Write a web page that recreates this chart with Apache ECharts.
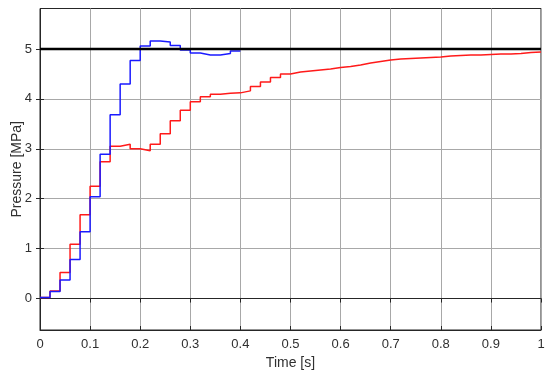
<!DOCTYPE html>
<html>
<head>
<meta charset="utf-8">
<script src="https://cdn.jsdelivr.net/npm/echarts@6/dist/echarts.min.js"></script>
<style>html,body{margin:0;padding:0;background:#fff}#c{width:550px;height:378px}</style>
</head>
<body>
<div id="c"></div>
<script>
// sample period of the stair signals
var dt = 0.02;
// blue response (0 .. 0.40 s), value held for each 0.02 s step
var blueValues = [0.02, 0.14, 0.37, 0.78, 1.34, 2.04, 2.89, 3.68, 4.30, 4.77,
                  5.06, 5.16, 5.14, 5.07, 4.98, 4.92, 4.88, 4.88, 4.91, 4.96];
// red response (0 .. 1.0 s)
var redValues = [0.02, 0.15, 0.52, 1.09, 1.68, 2.25, 2.74, 3.05, 3.09, 3.00,
                 2.96, 3.09, 3.30, 3.56, 3.77, 3.94, 4.04, 4.09, 4.11, 4.12,
                 4.16, 4.25, 4.34, 4.43, 4.50, 4.54, 4.56, 4.58, 4.60, 4.63,
                 4.65, 4.68, 4.72, 4.75, 4.78, 4.80, 4.81, 4.82, 4.83, 4.84,
                 4.86, 4.87, 4.88, 4.88, 4.89, 4.90, 4.90, 4.91, 4.93, 4.94];
// reference level
var refX = [0, 1];
var refY = [5, 5];
var yTicks = [0, 1, 2, 3, 4, 5];
var xLabel = 'Time [s]';
var yLabel = 'Pressure [MPa]';

function stairs(vals) {
  var out = [];
  for (var i = 0; i < vals.length; i++) out.push([+(i * dt).toFixed(4), vals[i]]);
  out.push([+(vals.length * dt).toFixed(4), vals[vals.length - 1]]);
  return out;
}

var chart = echarts.init(document.getElementById('c'), null, {renderer: 'canvas'});
var font = 'Liberation Sans, Arial, sans-serif';
var txt = '#303030';
var gridLine = {show: true, lineStyle: {color: '#a8a8a8', width: 1}};
chart.setOption({
  animation: false,
  backgroundColor: '#fff',
  grid: {left: 40, right: 9, top: 8.5, bottom: 48, show: true, borderColor: '#262626', borderWidth: 1,
         outerBoundsMode: 'none', containLabel: false},
  xAxis: [{
    type: 'value', min: 0, max: 1, interval: 0.1,
    name: xLabel, nameLocation: 'middle', nameGap: 26,
    nameTextStyle: {fontFamily: font, fontSize: 14, color: txt},
    axisLine: {show: true, onZero: false, lineStyle: {color: '#262626'}},
    axisTick: {show: true, inside: true, length: 4, lineStyle: {color: '#262626'}},
    axisLabel: {fontFamily: font, fontSize: 13, color: txt, margin: 8,
      formatter: function (v) { return +v.toFixed(1) + ''; }},
    splitLine: gridLine
  }, {
    type: 'value', min: 0, max: 1, interval: 0.1, position: 'top',
    axisLine: {show: true, lineStyle: {color: '#262626'}},
    axisTick: {show: true, inside: true, length: 4, lineStyle: {color: '#262626'}},
    axisLabel: {show: false}, splitLine: {show: false}
  }],
  yAxis: [{
    type: 'value', min: -0.63, max: 5.81,
    name: yLabel, nameLocation: 'middle', nameGap: 16, nameMoveOverlap: false,
    nameTextStyle: {fontFamily: font, fontSize: 14, color: txt},
    axisLine: {show: true, onZero: false, lineStyle: {color: '#262626'}},
    axisTick: {show: true, inside: true, length: 4, customValues: yTicks, lineStyle: {color: '#262626'}},
    axisLabel: {fontFamily: font, fontSize: 13, color: txt, margin: 8, customValues: yTicks},
    splitLine: gridLine
  }, {
    type: 'value', min: -0.63, max: 5.81, position: 'right',
    axisLine: {show: true, lineStyle: {color: '#262626'}},
    axisTick: {show: true, inside: true, length: 4, customValues: yTicks, lineStyle: {color: '#262626'}},
    axisLabel: {show: false}, splitLine: {show: false}
  }],
  series: [{
    type: 'line', step: 'end', data: stairs(redValues), showSymbol: false,
    lineStyle: {color: '#ff1a1a', width: 1.5}, z: 2
  }, {
    type: 'line', step: 'end', data: stairs(blueValues), showSymbol: false,
    lineStyle: {color: '#1a1aff', width: 1.5}, z: 3
  }, {
    type: 'line', data: refX.map(function (x, i) { return [x, refY[i]]; }), showSymbol: false,
    lineStyle: {color: '#000', width: 2.5}, z: 4
  }]
});
</script>
</body>
</html>
